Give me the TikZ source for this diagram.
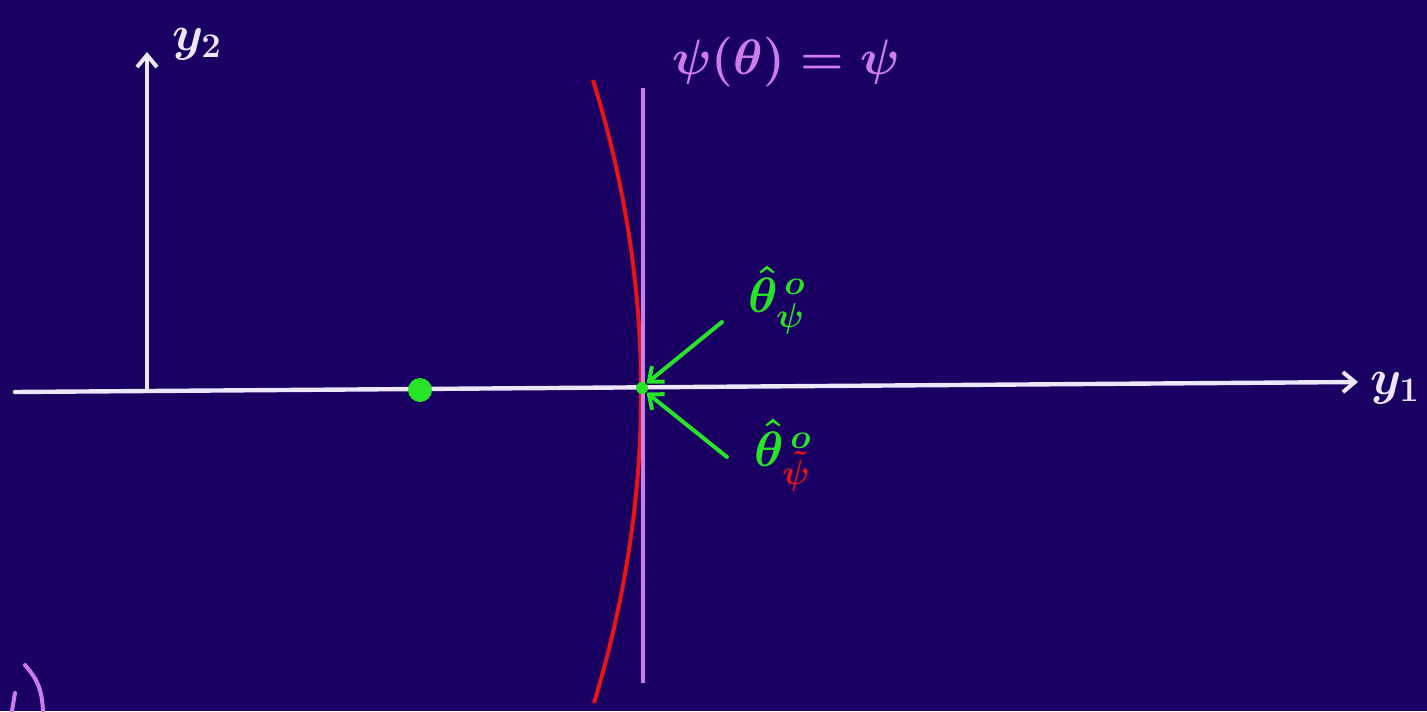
\documentclass[tikz,border=0pt]{standalone}
\usetikzlibrary{arrows.meta}
\definecolor{bg}{RGB}{26,0,98}
\definecolor{axiscol}{RGB}{236,230,255}
\definecolor{grn}{RGB}{40,228,40}
\definecolor{rd}{RGB}{232,20,24}
\definecolor{vio}{RGB}{205,125,235}
\tikzset{
  axisline/.style={draw=axiscol, line width=2.2pt, line cap=round},
  chev/.style={-{Straight Barb[length=6pt,width=10pt,line width=2pt]}},
  lbl/.style={inner sep=0pt, font=\fontsize{26}{28}\selectfont\boldmath},
  dotnode/.style={circle, fill=grn, inner sep=0pt},
}
\begin{document}
\begin{tikzpicture}[x=0.5pt,y=-0.5pt]
\fill[bg] (0,0) rectangle (1427,711);
\useasboundingbox (0,0) rectangle (1427,711);
% axes
\coordinate (xl) at (15,392);
\coordinate (xr) at (1358,382);
\coordinate (o) at (147,391);
\coordinate (yt) at (147,52);
\draw[axisline, chev] (xl) -- (xr);
\draw[axisline, chev] (o) -- (yt);
\node[lbl, text=axiscol] (ly1) at (1395,388) {$y_1$};
\node[lbl, text=axiscol] (ly2) at (197,44) {$y_2$};
% red curve
\coordinate (rt) at (593,80);
\coordinate (rb) at (594,703);
\draw[rd, line width=2pt] (rt) .. controls (657,287) and (657,495) .. (rb);
% violet line
\coordinate (vt) at (643,88);
\coordinate (vb) at (643,683);
\draw[vio, line width=2pt] (vt) -- (vb);
\node[lbl, text=vio] (lpsi) at (786,62) {$\psi(\theta)=\psi$};
% dots
\node[dotnode, minimum width=10pt, minimum height=12pt] (d1) at (420,390) {};
\node[dotnode, minimum size=6pt] (d2) at (642,388) {};
% labels
\node[lbl, text=grn] (t1) at (777,300) {$\hat{\theta}^{\,o}_{\psi}$};
\node[lbl, text=grn] (t2) at (783,455) {$\hat{\theta}^{\,o}_{\color{rd}\tilde{\psi}}$};
\coordinate (a1s) at (722,322);
\coordinate (a2s) at (727,457);
\draw[grn, line width=2pt, line cap=round, chev] (a1s) -- (d2.north east);
\draw[grn, line width=2pt, line cap=round, chev] (a2s) -- (d2.south east);
% partial strokes bottom-left
\draw[vio, line width=2pt, line cap=round] (25,665) .. controls (38,680) and (42,690) .. (43,711);
\draw[vio, line width=2pt, line cap=round] (15,693) -- (12,711);
\end{tikzpicture}
\end{document}
